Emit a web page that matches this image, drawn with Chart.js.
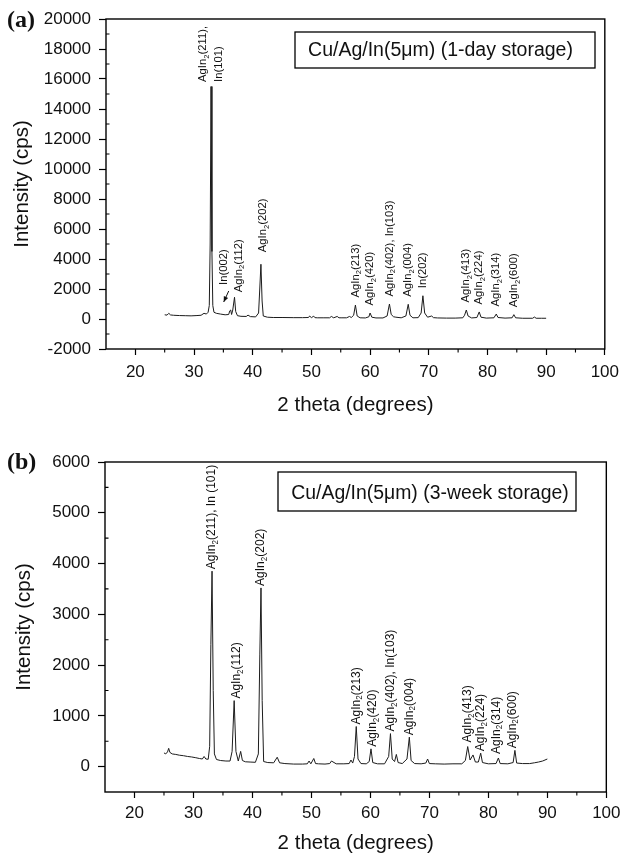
<!DOCTYPE html>
<html><head><meta charset="utf-8">
<script src="https://cdn.jsdelivr.net/npm/chart.js@4.4.1/dist/chart.umd.min.js"></script>
<style>
html,body{margin:0;padding:0;background:#fff;}
#wrap{position:relative;width:626px;height:856px;overflow:hidden;}
.pane{position:absolute;left:0;width:626px;height:428px;}
</style></head><body>
<div id="wrap">
<div class="pane" style="top:0"><canvas id="c1" width="626" height="428"></canvas></div>
<div class="pane" style="top:428px"><canvas id="c2" width="626" height="428"></canvas></div>
</div>
<script>
// ---------------- DATA ----------------
const xTicks = [20, 30, 40, 50, 60, 70, 80, 90, 100];
const yTicksA = [-2000, 0, 2000, 4000, 6000, 8000, 10000, 12000, 14000, 16000, 18000, 20000];
const yTicksB = [0, 1000, 2000, 3000, 4000, 5000, 6000];

const titleX = '2 theta (degrees)';
const titleY = 'Intensity (cps)';
const boxTextA = 'Cu/Ag/In(5μm) (1-day storage)';
const boxTextB = 'Cu/Ag/In(5μm) (3-week storage)';

// panel (a): 2theta and intensity
const xa = [25.0, 25.4, 25.7, 26.0, 26.5, 27.5, 28.5, 29.5, 30.5, 31.2, 31.7, 32.1, 32.4, 32.6, 32.75, 32.9, 33.05, 33.2, 33.4, 33.8,
  34.5, 35.3, 35.9, 36.1, 36.25, 36.4, 36.6, 36.9, 37.1, 37.4, 38.0, 38.9, 39.2, 39.6, 40.5, 41.0, 41.2, 41.4, 41.6, 41.8,
  42.5, 43.5, 45.0, 47.0, 48.5, 49.5, 49.7, 50.0, 50.4, 50.6, 51.0, 52.0, 53.1, 53.4, 53.8, 54.4, 54.7, 55.2, 56.0, 56.5,
  56.8, 57.2, 57.5, 57.8, 58.3, 59.2, 59.8, 60.0, 60.3, 61.0, 62.2, 62.9, 63.3, 63.6, 64.0, 64.4, 65.3, 66.1, 66.5, 66.8,
  67.3, 68.2, 68.7, 69.0, 69.3, 69.8, 70.5, 70.8, 71.5, 73.0, 74.5, 75.8, 76.1, 76.4, 76.7, 77.3, 78.2, 78.6, 78.9, 79.8,
  81.1, 81.5, 81.8, 83.0, 84.2, 84.5, 84.8, 86.0, 87.7, 88.0, 88.3, 89.2, 90.0];
const ya = [280, 260, 380, 270, 250, 230, 220, 210, 230, 250, 380, 330, 450, 900, 5000, 15500, 4500, 900, 450, 380,
  330, 280, 300, 550, 600, 300, 600, 1450, 500, 220, 180, 170, 260, 160, 140, 400, 2000, 3650, 1200, 200,
  120, 100, 100, 90, 90, 100, 200, 90, 190, 90, 80, 80, 80, 170, 80, 170, 80, 80, 80, 170,
  100, 250, 930, 200, 80, 70, 150, 400, 120, 70, 70, 200, 1000, 300, 150, 120, 80, 200, 980, 250,
  80, 90, 400, 1550, 400, 120, 200, 90, 70, 60, 60, 80, 250, 600, 200, 70, 100, 470, 120, 60,
  80, 330, 100, 60, 80, 290, 80, 50, 50, 130, 50, 50, 50];

// panel (b)
const xb = [25.0, 25.3, 25.6, 25.8, 26.0, 26.4, 27.0, 27.6, 28.3, 29.0, 29.7, 30.4, 31.0, 31.5, 31.8, 32.1, 32.5, 32.75, 32.95, 33.15,
  33.35, 33.55, 33.9, 34.6, 35.5, 36.2, 36.55, 36.9, 37.2, 37.6, 38.0, 38.3, 38.8, 39.6, 40.5, 41.0, 41.25, 41.45, 41.65, 41.9,
  42.6, 43.6, 44.2, 44.6, 45.5, 47.0, 48.5, 49.3, 49.6, 49.9, 50.4, 50.7, 51.2, 52.3, 53.1, 53.4, 54.2, 55.5, 56.4, 56.7,
  57.0, 57.3, 57.6, 57.9, 58.4, 59.3, 59.8, 60.1, 60.4, 61.2, 62.4, 63.1, 63.4, 63.7, 64.1, 64.4, 64.7, 65.4, 66.2, 66.6,
  66.9, 67.5, 68.6, 69.4, 69.7, 70.0, 71.0, 72.5, 74.0, 75.5, 76.1, 76.5, 76.9, 77.4, 77.8, 78.3, 78.7, 79.0, 80.0, 81.3,
  81.7, 82.0, 83.3, 84.2, 84.5, 84.8, 85.8, 87.0, 87.8, 88.5, 89.2, 90.0];
const yb = [270, 250, 290, 360, 280, 250, 240, 225, 215, 200, 190, 175, 160, 150, 200, 150, 145, 400, 2400, 3850,
  1500, 250, 140, 120, 110, 110, 300, 1300, 300, 110, 300, 120, 95, 90, 85, 250, 2200, 3520, 1300, 100,
  80, 75, 185, 75, 60, 50, 50, 55, 110, 55, 160, 60, 55, 50, 60, 110, 55, 55, 60, 130,
  70, 200, 790, 150, 60, 55, 100, 350, 80, 55, 55, 200, 650, 150, 100, 240, 80, 60, 150, 580,
  120, 60, 55, 70, 150, 60, 55, 50, 55, 55, 120, 395, 130, 230, 90, 90, 265, 80, 55, 60,
  170, 60, 55, 80, 320, 70, 60, 60, 75, 90, 110, 150];

// peak annotations
const labelXA = [32.9, 36.2, 36.9, 41.4, 57.5, 60.0, 63.3, 66.5, 69.0, 76.4, 78.6, 81.5, 84.5];
const labelTextA = [['AgIn_2(211),', 'In(101)'], ['In(002)'], ['AgIn_2(112)'], ['AgIn_2(202)'], ['AgIn_2(213)'],
  ['AgIn_2(420)'], ['AgIn_2(402), In(103)'], ['AgIn_2(004)'], ['In(202)'], ['AgIn_2(413)'], ['AgIn_2(224)'],
  ['AgIn_2(314)'], ['AgIn_2(600)']];
const labelXB = [33.15, 36.9, 41.45, 57.6, 60.1, 63.4, 66.6, 76.5, 78.7, 81.7, 84.5];
const labelTextB = [['AgIn_2(211), In (101)'], ['AgIn_2(112)'], ['AgIn_2(202)'], ['AgIn_2(213)'], ['AgIn_2(420)'],
  ['AgIn_2(402), In(103)'], ['AgIn_2(004)'], ['AgIn_2(413)'], ['AgIn_2(224)'], ['AgIn_2(314)'], ['AgIn_2(600)']];

// ---------------- DRAWING ----------------
const FONT = "'Liberation Sans', Arial, Helvetica, sans-serif";

function richText(ctx, str, x, y, size) {
  ctx.save();
  ctx.translate(x, y);
  ctx.rotate(-Math.PI / 2);
  ctx.textBaseline = 'middle';
  ctx.textAlign = 'left';
  const parts = str.split(/_(\d)/);
  let off = 0;
  parts.forEach((p, i) => {
    const sub = i % 2 === 1;
    const fs = sub ? size * 0.68 : size;
    ctx.font = fs + 'px ' + FONT;
    ctx.fillText(p, off, sub ? size * 0.32 : 0);
    off += ctx.measureText(p).width;
  });
  ctx.restore();
}

const peakLabels = {
  id: 'peakLabels',
  afterDatasetsDraw(chart, args, o) {
    const ctx = chart.ctx, xs = chart.scales.x, ys = chart.scales.y;
    const pts = chart.data.datasets[0].data;
    ctx.save();
    ctx.fillStyle = '#111'; ctx.strokeStyle = '#111';
    o.pos.forEach((pos, i) => {
      let best = null;
      pts.forEach(p => { if (Math.abs(p.x - pos) <= 0.26 && (!best || p.y > best.y)) best = p; });
      const px = xs.getPixelForValue(best.x), py = ys.getPixelForValue(best.y);
      const st = o.styles[i] || {};
      const lines = o.texts[i];
      const dx = st.dx || (lines.length > 1 ? [-8, 8] : [0]);
      const gap = st.gap !== undefined ? st.gap : o.gap;
      lines.forEach((t, j) => richText(ctx, t, px + dx[j], py - gap, o.size));
      if (st.arrow) {
        const ax = px + dx[0], ay = py - gap;
        const x0 = ax + 4.5, y0 = ay + 6, x1 = ax - 0.5, y1 = ay + 17;
        ctx.lineWidth = 1;
        ctx.beginPath(); ctx.moveTo(x0, y0); ctx.lineTo(x1, y1); ctx.stroke();
        const ang = Math.atan2(y1 - y0, x1 - x0), L = 6, W = 0.4;
        ctx.beginPath(); ctx.moveTo(x1, y1);
        ctx.lineTo(x1 - L * Math.cos(ang - W), y1 - L * Math.sin(ang - W));
        ctx.lineTo(x1 - L * Math.cos(ang + W), y1 - L * Math.sin(ang + W));
        ctx.closePath(); ctx.fill();
      }
    });
    ctx.restore();
  }
};

const frame = {
  id: 'frame',
  afterDraw(chart, args, o) {
    const ctx = chart.ctx, a = chart.chartArea, x = chart.scales.x, y = chart.scales.y;
    ctx.save();
    ctx.strokeStyle = '#000';
    ctx.lineWidth = 1.4;
    ctx.strokeRect(a.left, a.top, a.right - a.left, a.bottom - a.top);
    ctx.lineWidth = 1.1;
    ctx.beginPath();
    const xt = x.ticks.map(t => t.value);
    for (let i = 0; i < xt.length - 1; i++) {
      const px = x.getPixelForValue((xt[i] + xt[i + 1]) / 2);
      ctx.moveTo(px, a.bottom); ctx.lineTo(px, a.bottom + o.minorLen);
    }
    const yt = y.ticks.map(t => t.value);
    for (let i = 0; i < yt.length - 1; i++) {
      const py = y.getPixelForValue((yt[i] + yt[i + 1]) / 2);
      ctx.moveTo(a.left, py); ctx.lineTo(a.left + o.minorLen, py);
    }
    ctx.stroke();
    const b = o.box;
    ctx.lineWidth = 1.3;
    ctx.strokeRect(b[0], b[1], b[2] - b[0], b[3] - b[1]);
    ctx.fillStyle = '#111';
    ctx.font = o.boxFont + 'px ' + FONT;
    ctx.textAlign = 'center'; ctx.textBaseline = 'middle';
    ctx.fillText(o.boxText, o.textX, o.textY);
    ctx.font = 'bold 24px "Liberation Serif", "Times New Roman", serif';
    ctx.textAlign = 'left';
    ctx.fillText(o.panel, o.panelX, o.panelY);
    ctx.restore();
  }
};

function makeChart(id, xs, ys, yTicks, yMin, yMax, L) {
  const pts = xs.map((v, i) => ({ x: v, y: ys[i] }));
  return new Chart(document.getElementById(id), {
    type: 'line',
    data: { datasets: [{ data: pts, borderColor: '#1c1c1c', borderWidth: 1, pointRadius: 0, tension: 0, fill: false }] },
    plugins: [peakLabels, frame],
    options: {
      responsive: false, animation: false,
      layout: { padding: L.padding },
      plugins: {
        legend: { display: false }, tooltip: { enabled: false },
        peakLabels: L.labels,
        frame: L.frame
      },
      scales: {
        x: {
          type: 'linear', min: 15, max: 100,
          afterBuildTicks: s => { s.ticks = xTicks.map(v => ({ value: v })); },
          afterFit: s => { s.height = L.xh; },
          grid: { drawOnChartArea: false, drawTicks: true, tickLength: 6, tickColor: '#000', tickWidth: 1.2 },
          border: { display: false },
          ticks: { font: { family: FONT, size: 17 }, color: '#111', padding: L.xpad, maxRotation: 0, autoSkip: false, callback: v => String(v) },
          title: { display: true, text: titleX, color: '#111', font: { family: FONT, size: 20.5, lineHeight: 1 }, padding: { top: 0, bottom: L.xtp } }
        },
        y: {
          type: 'linear', min: yMin, max: yMax,
          afterBuildTicks: s => { s.ticks = yTicks.map(v => ({ value: v })); },
          afterFit: s => { s.width = L.yw; },
          grid: { drawOnChartArea: false, drawTicks: true, tickLength: 7, tickColor: '#000', tickWidth: 1.2 },
          border: { display: false },
          ticks: { font: { family: FONT, size: 17 }, color: '#111', padding: 8, autoSkip: false, callback: v => String(v) },
          title: { display: true, text: titleY, color: '#111', font: { family: FONT, size: 20.5, lineHeight: 1 }, padding: { top: L.ytp, bottom: 0 } }
        }
      }
    }
  });
}

makeChart('c1', xa, ya, yTicksA, -2000, 20000, {
  padding: { top: 19, right: 17, left: 0, bottom: 0 },
  xh: 79, yw: 106, xpad: 7, xtp: 12.75, ytp: 11.75,
  labels: {
    pos: labelXA, texts: labelTextA, size: 11.3, gap: 7.5,
    styles: { 0: { gap: 4.5, dx: [-8, 8] }, 1: { gap: 25, dx: [-6.5], arrow: true }, 2: { gap: 5, dx: [4] }, 3: { gap: 12, dx: [2] } }
  },
  frame: { minorLen: 3.5, box: [295, 32, 595, 68], boxText: boxTextA, boxFont: 19.5, textX: 440.5, textY: 51, panel: '(a)', panelX: 7, panelY: 21 }
});

makeChart('c2', xb, yb, yTicksB, -500, 6000, {
  padding: { top: 34, right: 19, left: 0, bottom: 0 },
  xh: 64, yw: 105, xpad: 5.5, xtp: 2.75, ytp: 14.25,
  labels: {
    pos: labelXB, texts: labelTextB, size: 12, gap: 2,
    styles: { 1: { dx: [2.5] }, 4: { dx: [2] }, 7: { gap: 4 }, 9: { gap: 4, dx: [-2] }, 10: { dx: [-2.5] } }
  },
  frame: { minorLen: 3.5, box: [278, 44, 576, 83], boxText: boxTextB, boxFont: 19.4, textX: 430, textY: 65.6, panel: '(b)', panelX: 7, panelY: 35 }
});
</script>
</body></html>
